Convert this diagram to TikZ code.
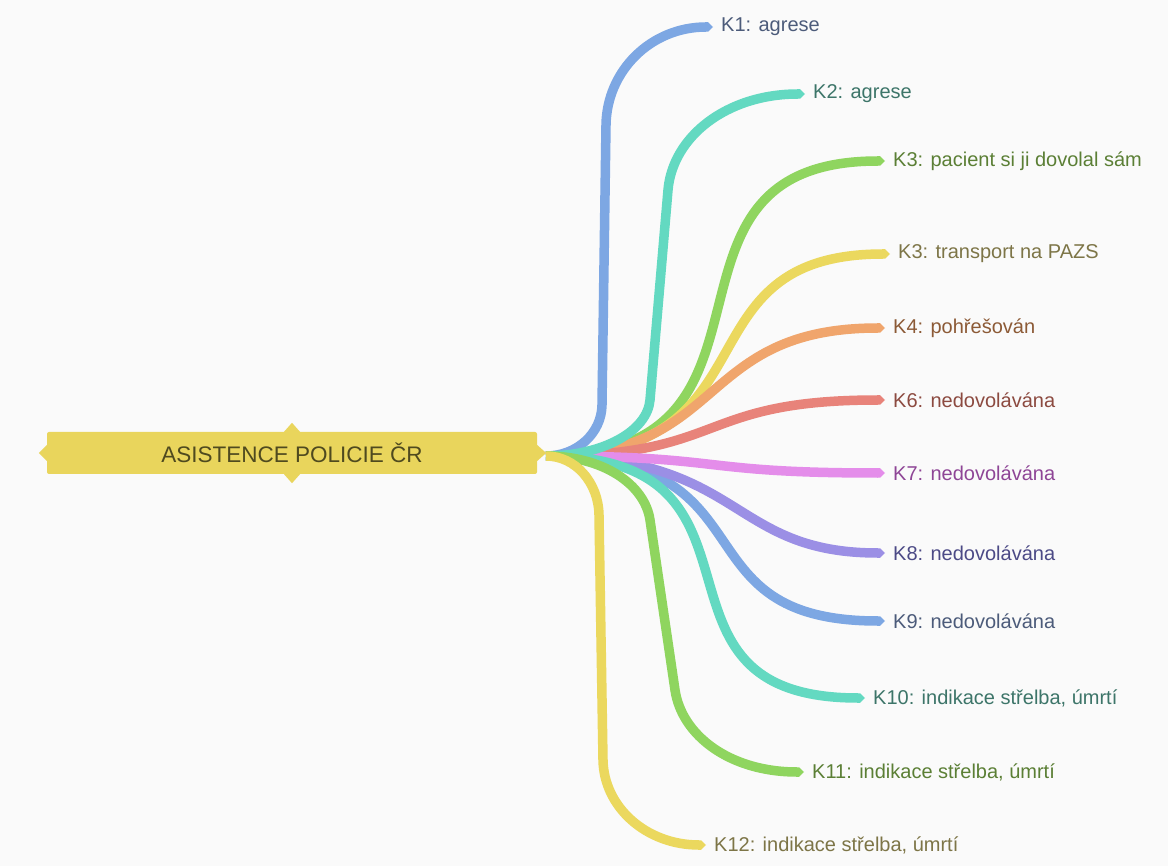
\documentclass[tikz,border=0pt]{standalone}
\usepackage{fontspec}
\setmainfont{Liberation Sans}
\usetikzlibrary{positioning,calc}

\definecolor{bgc}{HTML}{FAFAFA}
\definecolor{rootc}{HTML}{E9D55C}
\definecolor{roottxt}{HTML}{4F4A1F}
\definecolor{blueb}{HTML}{7DA7E3}
\definecolor{tealb}{HTML}{63D9C1}
\definecolor{greenb}{HTML}{8FD55F}
\definecolor{yellowb}{HTML}{EBD85E}
\definecolor{orangeb}{HTML}{F0A56C}
\definecolor{redb}{HTML}{E8837A}
\definecolor{pinkb}{HTML}{E48DEA}
\definecolor{purpleb}{HTML}{9B8FE5}
\definecolor{bluet}{HTML}{4C5B7A}
\definecolor{tealt}{HTML}{3D7569}
\definecolor{greent}{HTML}{5B7F35}
\definecolor{yellowt}{HTML}{7D7547}
\definecolor{oranget}{HTML}{8C5A36}
\definecolor{redt}{HTML}{8C4A40}
\definecolor{pinkt}{HTML}{8E4596}
\definecolor{purplet}{HTML}{4C4A86}

\tikzset{
  leaf/.style={anchor=west,inner sep=0pt,font=\fontsize{20}{23}\selectfont},
  ribbon/.style={line width=9.5pt,line cap=butt},
}
% arrow-like end of a ribbon, just left of the label
\newcommand{\ribbontip}[2]{\fill[#1] ($(#2.west)+(-16,-4.75)$) -- ($(#2.west)+(-13,-4.75)$) -- ($(#2.west)+(-8,0)$) -- ($(#2.west)+(-13,4.75)$) -- ($(#2.west)+(-16,4.75)$) --cycle;}

\begin{document}
\begin{tikzpicture}[x=1pt,y=-1pt]
    \fill[bgc] (0,0) rectangle (1168,866);
    \useasboundingbox (0,0) rectangle (1168,866);
    \coordinate (hub) at (546,456);
    % short branches: name/ribbon/text/x/y/bend near hub/bend near end/label
    \foreach \n/\bc/\tc/\x/\y/\ka/\kb/\txt in {
        k3/greenb/greent/893/161/0.8/0.25/{K3: pacient si ji dovolal sám},
        k3b/yellowb/yellowt/898/254/0.7/0.38/{K3: transport na PAZS},
        k4/orangeb/oranget/893/328/0.55/0.45/{K4: pohřešován},
        k6/redb/redt/893/400/0.55/0.45/{K6: nedovolávána},
        k9/blueb/bluet/893/621/0.7/0.38/{K9: nedovolávána},
        k8/purpleb/purplet/893/553/0.6/0.55/{K8: nedovolávána},
        k7/pinkb/pinkt/893/473/0.55/0.45/{K7: nedovolávána},
        k10/tealb/tealt/873/698/0.8/0.25/{K10: indikace střelba, úmrtí}}{
        \node[leaf,text=\tc] (\n) at (\x,\y) {\txt};
        \pgfmathsetmacro\cxa{546+\ka*(\x-16-546)}
        \pgfmathsetmacro\cxb{546+\kb*(\x-16-546)}
        \draw[ribbon,\bc] (hub) .. controls (\cxa,456) and (\cxb,\y) .. ($(\n.west)+(-15,0)$);
        \ribbontip{\bc}{\n}
    }
    % long branches: they run almost straight from (xa,ya) to (xb,yb)
    \foreach \n/\bc/\tc/\x/\y/\xa/\ya/\xb/\yb/\txt in {
        k1/blueb/bluet/721/27/602/405/606/125/{K1: agrese},
        k2/tealb/tealt/813/94/650/400/668/190/{K2: agrese},
        k11/greenb/greent/812/772/650/520/675/690/{K11: indikace střelba, úmrtí},
        k12/yellowb/yellowt/714/845/599/515/603/760/{K12: indikace střelba, úmrtí}}{
        \node[leaf,text=\tc] (\n) at (\x,\y) {\txt};
        \pgfmathsetmacro\m{(\xb-\xa)/(\yb-\ya)}
        \pgfmathsetmacro\pa{546+0.552*(\xa-546)}
        \pgfmathsetmacro\pb{\ya+0.552*(456-\ya)}
        \pgfmathsetmacro\qa{\xa+\m*(\pb-\ya)}
        \pgfmathsetmacro\pc{\yb+0.552*(\y-\yb)}
        \pgfmathsetmacro\qb{\xb+\m*(\pc-\yb)}
        \pgfmathsetmacro\pd{\x-15-0.552*(\x-15-\xb)}
        \draw[ribbon,\bc] (hub) .. controls (\pa,456) and (\qa,\pb) .. (\xa,\ya) -- (\xb,\yb)
            .. controls (\qb,\pc) and (\pd,\y) .. ($(\n.west)+(-15,0)$);
        \ribbontip{\bc}{\n}
    }
    % central topic
    \node[fill=rootc,rounded corners=2pt,minimum width=490pt,minimum height=42pt,text=roottxt,font=\fontsize{22.5}{26}\selectfont] (root) at (292,453) {ASISTENCE POLICIE ČR};
    \fill[rootc] ($(root.north)+(-8,0)$) -- ($(root.north)+(0,-9)$) -- ($(root.north)+(8,0)$) --cycle;
    \fill[rootc] ($(root.south)+(-8,0)$) -- ($(root.south)+(0,9)$) -- ($(root.south)+(8,0)$) --cycle;
    \fill[rootc] ($(root.west)+(0,-8)$) -- ($(root.west)+(-8,0)$) -- ($(root.west)+(0,8)$) --cycle;
    \fill[rootc] ($(root.east)+(0,-8)$) -- ($(root.east)+(9,0)$) -- ($(root.east)+(0,8)$) --cycle;
\end{tikzpicture}
\end{document}
